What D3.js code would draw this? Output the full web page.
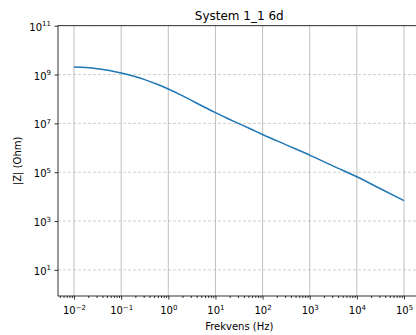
<!DOCTYPE html>
<html>
<head>
<meta charset="utf-8">
<script src="https://cdn.jsdelivr.net/npm/d3@7"></script>
<style>
  body { margin: 0; background: #fff; }
  svg { display: block; font-family: "DejaVu Sans", sans-serif; }
</style>
</head>
<body>
<svg id="chart" width="416" height="335"></svg>
<script>
// Impedance magnitude vs. frequency
const freqHz = [0.01, 0.0178, 0.0316, 0.0562, 0.1, 0.178, 0.316, 0.562, 1, 1.78, 3.16, 5.62,
                10, 17.8, 31.6, 56.2, 100, 316, 1000, 3162, 10000, 31623, 100000];
const impedanceOhm = [2.04e9, 1.95e9, 1.74e9, 1.45e9, 1.15e9, 8.7e8, 6.2e8, 4.1e8, 2.57e8, 1.51e8, 8.5e7, 4.8e7,
                      2.75e7, 1.62e7, 9.8e6, 5.9e6, 3.5e6, 1.32e6, 5.0e5, 1.78e5, 6.5e4, 2.1e4, 6.9e3];
const xTickExponents = [-2, -1, 0, 1, 2, 3, 4, 5];
const yTickExponents = [1, 3, 5, 7, 9, 11];
const titleText = "System 1_1 6d";
const xLabelText = "Frekvens (Hz)";
const yLabelText = "|Z| (Ohm)";

const svg = d3.select("#chart");
const plotLeft = 58, plotRight = 420.5, plotTop = 25.7, plotBottom = 296;

const x = d3.scaleLog().domain([10 ** -2.34, 10 ** 5.35]).range([plotLeft, plotRight]);
const y = d3.scaleLog().domain([10 ** -0.07, 1e11]).range([plotBottom, plotTop]);

const xMajor = xTickExponents.map(e => 10 ** e);
const yMajor = yTickExponents.map(e => 10 ** e);
const xMinor = [];
for (let e = -3; e <= 5; e++) {
  for (let m = 2; m <= 9; m++) {
    const v = m * 10 ** e;
    if (v >= x.domain()[0] && v <= x.domain()[1]) xMinor.push(v);
  }
}

svg.append("clipPath").attr("id", "plotClip")
  .append("rect").attr("x", plotLeft).attr("y", plotTop)
  .attr("width", plotRight - plotLeft).attr("height", plotBottom - plotTop);

// grid
const grid = svg.append("g").attr("clip-path", "url(#plotClip)");
grid.selectAll("line.vg").data(xMajor).join("line").attr("class", "vg")
  .attr("x1", d => x(d)).attr("x2", d => x(d))
  .attr("y1", plotTop).attr("y2", plotBottom)
  .attr("stroke", "#b0b0b0").attr("stroke-width", 0.8);
grid.selectAll("line.hg").data(yMajor).join("line").attr("class", "hg")
  .attr("x1", plotLeft).attr("x2", plotRight)
  .attr("y1", d => y(d)).attr("y2", d => y(d))
  .attr("stroke", "#b0b0b0").attr("stroke-opacity", 0.75)
  .attr("stroke-width", 0.8).attr("stroke-dasharray", "3,2");

// data line
const pts = freqHz.map((f, i) => [f, impedanceOhm[i]]);
svg.append("path")
  .datum(pts)
  .attr("clip-path", "url(#plotClip)")
  .attr("fill", "none")
  .attr("stroke", "#1f77b4")
  .attr("stroke-width", 1.5)
  .attr("stroke-linejoin", "round")
  .attr("d", d3.line().x(d => x(d[0])).y(d => y(d[1])).curve(d3.curveMonotoneX));

// spines
svg.append("rect")
  .attr("x", plotLeft).attr("y", plotTop)
  .attr("width", plotRight - plotLeft).attr("height", plotBottom - plotTop)
  .attr("fill", "none").attr("stroke", "#000").attr("stroke-width", 0.8);

function supLabel(sel, exp) {
  sel.text(null);
  sel.append("tspan").text("10");
  sel.append("tspan")
    .attr("font-size", 7)
    .attr("dy", -4.5)
    .text(String(exp).replace("-", "\u2212"));
}

// x axis
const xAxisG = svg.append("g").attr("transform", `translate(0,${plotBottom})`);
xAxisG.append("g").call(d3.axisBottom(x).tickValues(xMinor).tickSize(2).tickSizeOuter(0).tickFormat(""));
const xMajorG = xAxisG.append("g")
  .call(d3.axisBottom(x).tickValues(xMajor).tickSize(3.5).tickSizeOuter(0).tickPadding(3.5));
xAxisG.selectAll(".domain").remove();
xAxisG.selectAll(".tick line").attr("stroke", "#000").attr("stroke-width", 0.8);
xMajorG.selectAll(".tick text")
  .attr("font-family", "DejaVu Sans").attr("font-size", 10).attr("fill", "#000")
  .attr("dy", null).attr("y", 18)
  .each(function (d) {
    supLabel(d3.select(this), Math.round(Math.log10(d)));
  });

// y axis
const yAxisG = svg.append("g").attr("transform", `translate(${plotLeft},0)`);
yAxisG.call(d3.axisLeft(y).tickValues(yMajor).tickSize(3.5).tickSizeOuter(0).tickPadding(3.5));
yAxisG.selectAll(".domain").remove();
yAxisG.selectAll(".tick line").attr("stroke", "#000").attr("stroke-width", 0.8);
yAxisG.selectAll(".tick text")
  .attr("font-family", "DejaVu Sans").attr("font-size", 10).attr("fill", "#000")
  .attr("dy", null).attr("y", 4.5)
  .each(function (d) {
    supLabel(d3.select(this), Math.round(Math.log10(d)));
  });

// title and axis labels
svg.append("text")
  .attr("x", (plotLeft + plotRight) / 2).attr("y", 19.5)
  .attr("text-anchor", "middle").attr("font-size", 12).attr("fill", "#000")
  .text(titleText);
svg.append("text")
  .attr("x", (plotLeft + plotRight) / 2).attr("y", 329.5)
  .attr("text-anchor", "middle").attr("font-size", 10).attr("fill", "#000")
  .text(xLabelText);
svg.append("text")
  .attr("transform", `translate(21,${(plotTop + plotBottom) / 2}) rotate(-90)`)
  .attr("text-anchor", "middle").attr("font-size", 10).attr("fill", "#000")
  .text(yLabelText);
</script>
</body>
</html>
